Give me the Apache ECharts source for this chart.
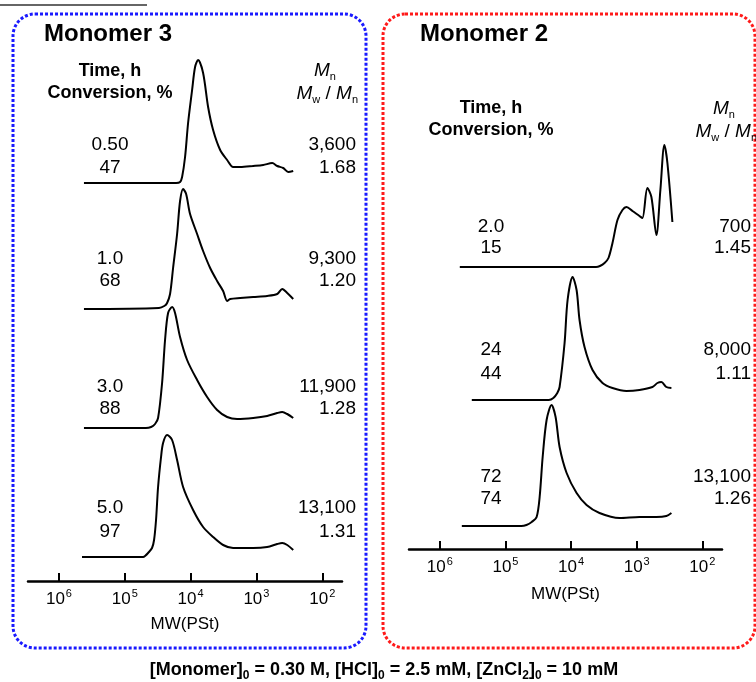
<!DOCTYPE html>
<html><head><meta charset="utf-8">
<script src="https://cdn.jsdelivr.net/npm/echarts@6/dist/echarts.min.js"></script>
<style>html,body{margin:0;padding:0;background:#fff}#c{width:756px;height:682px}</style>
</head><body><div id="c"></div>
<script>
// ---- data (x = log10 MW, y = detector response, arbitrary units) ----
var tickValues = [6, 5, 4, 3, 2];
var axisName = 'MW(PSt)';

var m3Time = ['0.50', '1.0', '3.0', '5.0'];
var m3Conv = ['47', '68', '88', '97'];
var m3Mn = ['3,600', '9,300', '11,900', '13,100'];
var m3Pdi = ['1.68', '1.20', '1.28', '1.31'];

var m2Time = ['2.0', '24', '72'];
var m2Conv = ['15', '44', '74'];
var m2Mn = ['700', '8,000', '13,100'];
var m2Pdi = ['1.45', '1.11', '1.26'];

var m3t050 = [[5.620,0],[4.220,0],[4.160,1],[4.129,6],[4.084,26],[4.038,60],[3.977,93],[3.932,116],[3.886,123],[3.810,110],[3.734,76],[3.658,53],[3.551,33],[3.445,23],[3.354,16],[3.247,16],[3.049,17],[2.897,18],[2.760,20],[2.684,17],[2.593,15],[2.517,11],[2.441,12]];
var m3t10 = [[5.620,-1],[4.480,0],[4.400,2],[4.357,5],[4.312,14],[4.266,40],[4.205,74],[4.160,107],[4.114,119],[4.068,114],[4.008,94],[3.901,74],[3.810,57],[3.703,40],[3.597,27],[3.506,17],[3.445,7],[3.399,9],[3.247,10],[3.049,11],[2.837,12],[2.684,14],[2.608,19],[2.532,15],[2.441,9]];
var m3t30 = [[5.620,0],[4.680,0],[4.600,1],[4.540,4],[4.494,10],[4.433,45],[4.388,88],[4.342,115],[4.281,121],[4.236,115],[4.160,91],[4.053,68],[3.901,48],[3.749,31],[3.597,18],[3.445,11],[3.293,9],[3.049,10],[2.837,12],[2.684,15],[2.608,16],[2.532,14],[2.441,10]];
var m3t50 = [[5.650,0],[4.720,0],[4.692,1],[4.646,4],[4.586,9],[4.555,17],[4.525,37],[4.494,70],[4.449,100],[4.418,114],[4.357,122],[4.281,117],[4.205,97],[4.114,70],[3.962,47],[3.810,30],[3.658,20],[3.506,12],[3.354,9],[3.049,9],[2.837,10],[2.684,13],[2.608,14],[2.532,12],[2.441,7]];

var m2t20 = [[5.696,0],[3.620,0],[3.560,1],[3.490,4],[3.430,9],[3.369,24],[3.293,47],[3.217,57],[3.156,60],[3.065,56],[2.958,51],[2.913,49],[2.837,79],[2.776,70],[2.700,32],[2.639,77],[2.578,122],[2.532,104],[2.456,45]];
var m2t24 = [[5.513,0],[4.340,0],[4.270,2],[4.210,7],[4.175,13],[4.099,57],[4.053,100],[3.977,123],[3.916,110],[3.871,80],[3.795,53],[3.673,30],[3.521,17],[3.369,12],[3.156,9],[2.958,10],[2.760,13],[2.684,17],[2.624,18],[2.548,13],[2.471,12]];
var m2t72 = [[5.665,0],[4.760,0],[4.680,1],[4.600,4],[4.525,9],[4.479,29],[4.433,69],[4.373,106],[4.297,121],[4.236,109],[4.175,79],[4.068,53],[3.916,33],[3.764,21],[3.567,13],[3.262,8],[2.958,9],[2.700,9],[2.548,10],[2.471,13]];

// ---- layout ----
var FONT = '"Liberation Sans", Arial, sans-serif';
var chart = echarts.init(document.getElementById('c'), null, {renderer: 'canvas'});

var panels = [
  {left: 28, width: 314, bases: [183, 308, 428, 557], axisY: 581, nameGap: 35, traces: [m3t050, m3t10, m3t30, m3t50]},
  {left: 409, width: 313, bases: [267, 400, 526], axisY: 549, nameGap: 37, traces: [m2t20, m2t24, m2t72]}
];

var grids = [], xAxes = [], yAxes = [], series = [];
panels.forEach(function (p) {
  p.traces.forEach(function (tr, k) {
    var idx = grids.length;
    var base = p.bases[k];
    grids.push({left: p.left, width: p.width, top: base - 125, height: 130});
    var last = k === p.traces.length - 1;
    var xa = {type: 'value', gridIndex: idx, min: 1.70, max: 6.47, inverse: true, show: last, splitLine: {show: false}};
    if (last) {
      xa.position = 'bottom';
      xa.offset = p.axisY - (base + 5);
      xa.axisLine = {show: true, onZero: false, lineStyle: {color: '#000', width: 2.5}};
      xa.axisTick = {show: true, inside: true, length: 8, lineStyle: {color: '#000', width: 2}, customValues: tickValues};
      xa.axisLabel = {
        show: true, margin: 7, customValues: tickValues,
        formatter: function (v) { return '{b|10}{s|' + Math.round(v) + '}'; },
        rich: {
          b: {fontFamily: FONT, fontSize: 17, color: '#000', lineHeight: 20, verticalAlign: 'bottom'},
          s: {fontFamily: FONT, fontSize: 11, color: '#000', lineHeight: 20, verticalAlign: 'top', padding: [0, 0, 0, 1]}
        }
      };
      xa.name = axisName;
      xa.nameLocation = 'middle';
      xa.nameGap = p.nameGap;
      xa.nameTextStyle = {fontFamily: FONT, fontSize: 17, color: '#000'};
    }
    xAxes.push(xa);
    yAxes.push({type: 'value', gridIndex: idx, min: -5, max: 125, show: false});
    series.push({
      type: 'line', xAxisIndex: idx, yAxisIndex: idx, data: tr,
      smooth: 0.3, symbol: 'none', silent: true,
      lineStyle: {color: '#000', width: 2}
    });
  });
});

// ---- text graphics ----
var g = [];
function txt(x, y, s, opt) {
  var st = {x: x, y: y, text: s, fill: '#000', font: (opt.weight || 'normal') + ' ' + (opt.size || 19) + 'px ' + FONT,
    textAlign: opt.align || 'center', textVerticalAlign: 'middle'};
  if (opt.rich) st.rich = opt.rich;
  g.push({type: 'text', silent: true, style: st});
}
// panel borders
g.push({type: 'rect', silent: true, shape: {x: 13, y: 14, width: 353, height: 634, r: 22},
  style: {fill: 'none', stroke: '#1a1aff', lineWidth: 3, lineDash: [3, 2]}});
g.push({type: 'rect', silent: true, shape: {x: 383, y: 14, width: 372, height: 634, r: 22},
  style: {fill: 'none', stroke: '#ff1a1a', lineWidth: 3, lineDash: [3, 2]}});
g.push({type: 'line', silent: true, shape: {x1: 0, y1: 5, x2: 147, y2: 5}, style: {stroke: '#333', lineWidth: 1.5}});

txt(44, 34, 'Monomer 3', {size: 24, weight: 'bold', align: 'left'});
txt(420, 34, 'Monomer 2', {size: 24, weight: 'bold', align: 'left'});

var mRich = {
  i: {fontFamily: FONT, fontSize: 19, fontStyle: 'italic', color: '#000', lineHeight: 20, verticalAlign: 'bottom'},
  n: {fontFamily: FONT, fontSize: 19, color: '#000', lineHeight: 20, verticalAlign: 'bottom'},
  sb: {fontFamily: FONT, fontSize: 11, color: '#000', lineHeight: 20, verticalAlign: 'bottom', padding: [0, 0, -2, 0]}
};
// headers
txt(110, 71, 'Time, h', {size: 18, weight: 'bold'});
txt(110, 93, 'Conversion, %', {size: 18, weight: 'bold'});
txt(325, 70, '{i|M}{sb|n}', {rich: mRich});
txt(358, 93, '{i|M}{sb|w}{n| / }{i|M}{sb|n}', {rich: mRich, align: 'right'});

txt(491, 108, 'Time, h', {size: 18, weight: 'bold'});
txt(491, 130, 'Conversion, %', {size: 18, weight: 'bold'});
txt(724, 108, '{i|M}{sb|n}', {rich: mRich});
txt(757, 131, '{i|M}{sb|w}{n| / }{i|M}{sb|n}', {rich: mRich, align: 'right'});

var m3Y = [[145, 168], [259, 281], [387, 409], [508, 532]];
m3Time.forEach(function (t, i) {
  txt(110, m3Y[i][0], t, {});
  txt(110, m3Y[i][1], m3Conv[i], {});
  txt(356, m3Y[i][0], m3Mn[i], {align: 'right'});
  txt(356, m3Y[i][1], m3Pdi[i], {align: 'right'});
});
var m2Y = [[227, 248], [350, 374], [477, 499]];
m2Time.forEach(function (t, i) {
  txt(491, m2Y[i][0], t, {});
  txt(491, m2Y[i][1], m2Conv[i], {});
  txt(751, m2Y[i][0], m2Mn[i], {align: 'right'});
  txt(751, m2Y[i][1], m2Pdi[i], {align: 'right'});
});

var cRich = {
  a: {fontFamily: FONT, fontSize: 18, fontWeight: 'bold', color: '#000', lineHeight: 22, verticalAlign: 'bottom'},
  s: {fontFamily: FONT, fontSize: 12, fontWeight: 'bold', color: '#000', lineHeight: 22, verticalAlign: 'bottom', padding: [0, 0, -3, 0]}
};
txt(384, 668, '{a|[Monomer]}{s|0}{a| = 0.30 M, [HCl]}{s|0}{a| = 2.5 mM, [ZnCl}{s|2}{a|]}{s|0}{a| = 10 mM}', {rich: cRich});

chart.setOption({
  animation: false,
  grid: grids, xAxis: xAxes, yAxis: yAxes, series: series,
  graphic: {elements: g}
});
</script></body></html>
